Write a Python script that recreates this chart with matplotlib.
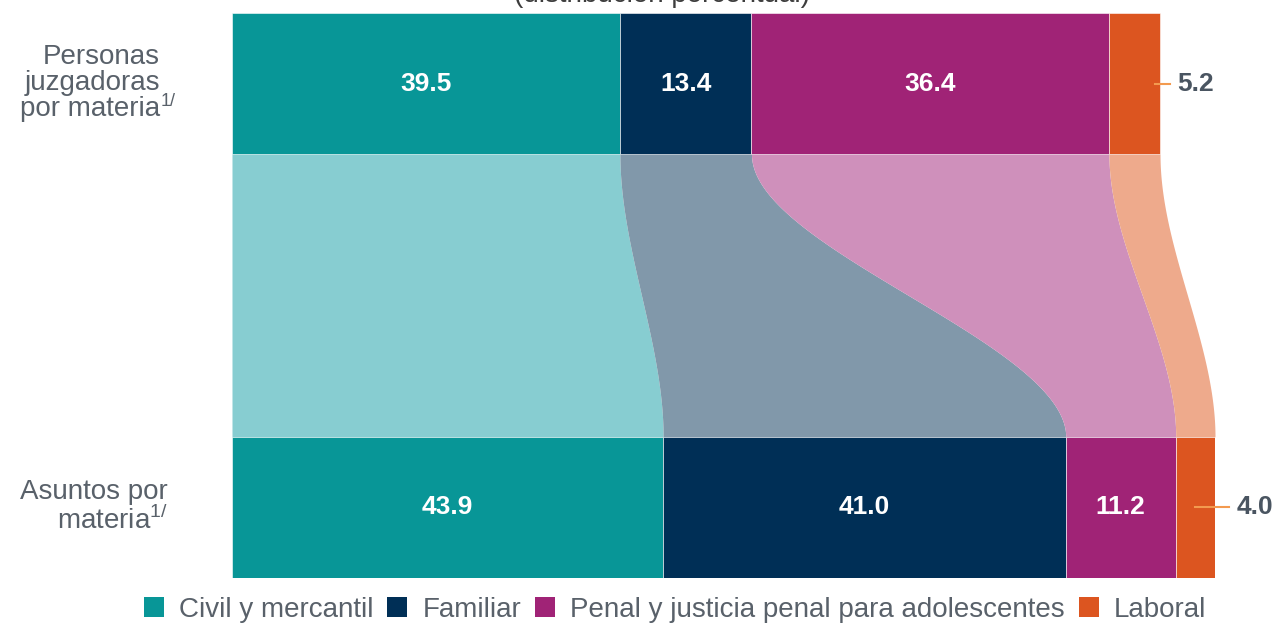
import numpy as np
import matplotlib
matplotlib.use('Agg')
import matplotlib.pyplot as plt
from matplotlib.patches import Patch

plt.rcParams['font.family'] = ['Liberation Sans', 'DejaVu Sans']
plt.rcParams['mathtext.fontset'] = 'custom'
plt.rcParams['mathtext.rm'] = 'Liberation Sans'

# ==================== 数据 ====================
materias = ['Civil y mercantil', 'Familiar',
            'Penal y justicia penal para adolescentes', 'Laboral']
personas = [39.5, 13.4, 36.4, 5.2]
asuntos = [43.9, 41.0, 11.2, 4.0]

colores = ['#089697', '#002f56', '#a02376', '#dc5520']
colores_flujo = ['#87cdd1', '#8198aa', '#cf90bb', '#eeaa8c']
gris = '#59616a'
gris_osc = '#4a5561'

W, H = 1275, 623
fig = plt.figure(figsize=(W / 100, H / 100), dpi=100)


def fx(px):
    return px / W


def fy(py):
    return 1 - py / H


ax = fig.add_axes([fx(232), fy(578), fx(1215) - fx(232), fy(13) - fy(578)])
total = sum(asuntos)
ax.set_xlim(0, total)
ax.set_ylim(0, 4)
ax.axis('off')

# 上下两条堆叠条形
top_left = np.concatenate([[0], np.cumsum(personas)[:-1]])
bot_left = np.concatenate([[0], np.cumsum(asuntos)[:-1]])
ax.barh(3.5, personas, left=top_left, height=1, color=colores,
        edgecolor='#ffffff', linewidth=0.4)
ax.barh(0.5, asuntos, left=bot_left, height=1, color=colores,
        edgecolor='#ffffff', linewidth=0.4)

# 流带 (S形)
yy = np.linspace(1, 3, 300)
t = (3 - yy) / 2
s = 3 * t ** 2 - 2 * t ** 3
for i in range(len(materias)):
    a0, a1 = top_left[i], top_left[i] + personas[i]
    b0, b1 = bot_left[i], bot_left[i] + asuntos[i]
    x0 = a0 + (b0 - a0) * s
    x1 = a1 + (b1 - a1) * s
    ax.fill_betweenx(yy, x0, x1, color=colores_flujo[i], linewidth=0)

# 数据标签
fs_val = 19
for i in range(3):
    ax.text(top_left[i] + personas[i] / 2, 3.5, f'{personas[i]:.1f}',
            ha='center', va='center', color='white', fontsize=fs_val,
            fontweight='bold')
    ax.text(bot_left[i] + asuntos[i] / 2, 0.5, f'{asuntos[i]:.1f}',
            ha='center', va='center', color='white', fontsize=fs_val,
            fontweight='bold')

end_top = sum(personas)
ax.plot([end_top - 0.5, end_top + 1.0], [3.5, 3.5], color='#f39a4f',
        lw=1.5, clip_on=False)
ax.text(end_top + 1.8, 3.5, f'{personas[3]:.1f}', ha='left', va='center',
        color=gris_osc, fontsize=fs_val, fontweight='bold')
ax.plot([bot_left[3] + asuntos[3] / 2, total + 1.4], [0.5, 0.5],
        color='#f39a4f', lw=1.5, clip_on=False)
ax.text(total + 2.2, 0.5, f'{asuntos[3]:.1f}', ha='left', va='center',
        color=gris_osc, fontsize=fs_val, fontweight='bold')

# 分类标签
fig.text(fx(160), fy(83), 'Personas\njuzgadoras\npor materia', ha='right',
         va='center', multialignment='right', color=gris, fontsize=20,
         linespacing=1.0)
fig.text(fx(161), fy(106), '1/', ha='left', va='baseline', color=gris,
         fontsize=13)
fig.text(fx(168), fy(507), 'Asuntos por\nmateria$^{1/}$', ha='right',
         va='center', multialignment='right', color=gris, fontsize=20,
         linespacing=1.0)

# 标题 (被裁切)
fig.text(fx(662), fy(2), '(distribución porcentual)', ha='center',
         va='baseline', color='#3d3d3d', fontsize=20)

# 图例
handles = [Patch(facecolor=c, edgecolor='none') for c in colores]
fig.legend(handles, materias, loc='center', bbox_to_anchor=(fx(675), fy(610)),
           ncol=4, frameon=False, fontsize=20, handlelength=0.72,
           handleheight=0.72, handletextpad=0.54, columnspacing=0.5,
           labelcolor=gris, borderpad=0, borderaxespad=0)

fig.savefig('out.png', dpi=100, facecolor='white')
